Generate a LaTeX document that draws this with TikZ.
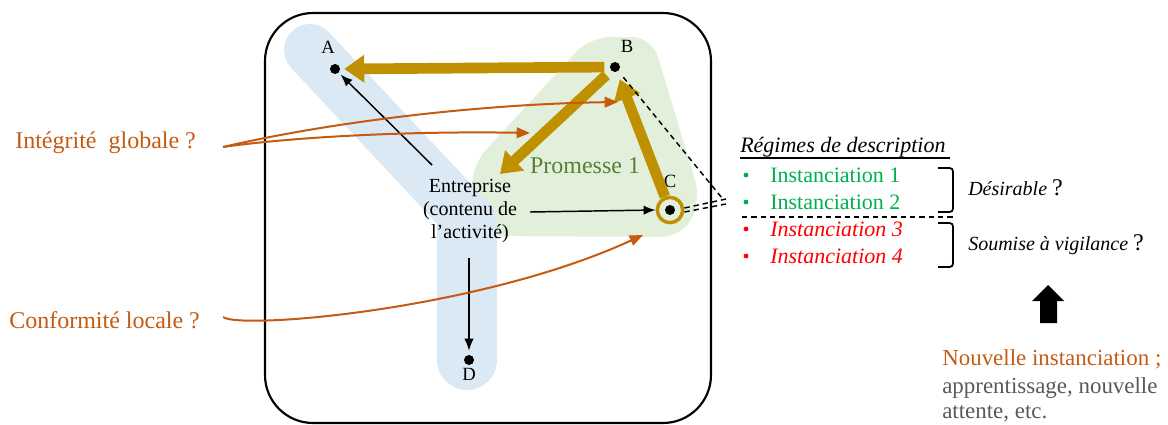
\documentclass[tikz,border=0pt]{standalone}
\usepackage{fontspec}
\setmainfont{Liberation Serif}
\usetikzlibrary{arrows.meta,calc}
\definecolor{orng}{RGB}{197,90,17}
\definecolor{gold}{RGB}{191,144,0}
\definecolor{igreen}{RGB}{0,176,80}
\definecolor{pgreen}{RGB}{84,130,53}
\definecolor{bband}{RGB}{218,233,243}
\definecolor{gband}{RGB}{226,239,218}
\definecolor{greytxt}{RGB}{89,89,89}
\tikzset{
  dot/.style={circle,fill=black,inner sep=0pt,minimum size=7.5pt},
  lbl/.style={font=\fontsize{14}{16}\selectfont,inner sep=0pt},
  goldarrow/.style={draw=gold,line width=8pt,-{Triangle[length=15pt,width=20pt]},gold},
  blackarrow/.style={draw=black,line width=1.1pt,-{Latex[length=9pt,width=7pt]}},
  orarrow/.style={draw=orng,line width=1.5pt,-{Triangle[length=10pt,width=8pt]}},
  dashline/.style={draw=black,line width=1.1pt,dash pattern=on 4pt off 3pt},
  bigtxt/.style={font=\fontsize{18}{21}\selectfont,inner sep=0pt,anchor=west},
  newtxt/.style={font=\fontsize{17.2}{20}\selectfont,inner sep=0pt,anchor=west},
  insttxt/.style={font=\fontsize{16.5}{19}\selectfont,inner sep=0pt,anchor=west},
  bul/.style={circle,inner sep=0pt,minimum size=3.6pt},
}
\begin{document}
\begin{tikzpicture}[x=0.75pt,y=-0.75pt]
\useasboundingbox (0,0) rectangle (1168,425);
% green band
\fill[gband,rounded corners=15pt] (472,236) -- (472,165) -- (590,37) -- (652,37) -- (701,200) -- (682,237) -- cycle;
% blue bands
\draw[bband,line width=39pt,line cap=round] (310,50) -- (455,205);
\draw[bband,line width=45pt,line cap=round] (467,222) -- (467,360);
% outer frame
\draw[line width=1.6pt,rounded corners=36pt] (265,13) rectangle (711,423);
% dots
\node[dot] (A) at (335,69) {};
\node[dot] (B) at (615,67) {};
\node[dot] (C) at (670,210) {};
\node[dot] (D) at (469,360) {};
\node[circle,draw=gold,line width=2.6pt,minimum size=19pt,inner sep=0pt] (Cring) at (670,210) {};
\node[lbl] (lA) at (328,47) {A};
\node[lbl] (lB) at (627,46) {B};
\node[lbl] (lC) at (670,181) {C};
\node[lbl] (lD) at (469,374) {D};
% Entreprise
\node[align=center,font=\fontsize{15}{17.3}\selectfont,inner sep=0pt] (E) at (470,211) {Entreprise\\(contenu de\\l’activité)};
\node[font=\fontsize{18}{21}\selectfont,text=pgreen,inner sep=0pt] (P) at (585,166) {Promesse 1};
% gold arrows
\coordinate (Etip) at (500,174);
\draw[goldarrow,shorten <=4pt,shorten >=3pt] (B) -- (A);
\draw[goldarrow,shorten <=5pt] (B) -- (Etip);
\draw[goldarrow,shorten >=6pt] (Cring) -- (B);
% black arrows
\coordinate (Es1) at (432,165);
\coordinate (Es2) at (530,212);
\coordinate (Es3) at (469,258);
\draw[blackarrow,shorten >=2pt] (Es1) -- (A);
\draw[blackarrow,shorten >=0pt] (Es2) -- (Cring.west);
\draw[blackarrow,shorten >=3pt] (Es3) -- (D);
% dashed lines
\coordinate (J1) at (722,198);
\coordinate (J2) at (726,199);
\coordinate (J3) at (726,204);
\draw[dashline,shorten <=6pt] (B) -- (J1);
\draw[dashline] ($(Cring.east)+(0,-2)$) -- (J2);
\draw[dashline] ($(Cring.east)+(0,2)$) -- (J3);
% left labels
\node[bigtxt,text=orng] (IG) at (15,143) {Intégrité\ \ globale ?};
\node[bigtxt,text=orng] (CL) at (9,320) {Conformité locale ?};
\coordinate (IGs) at (223,147);
\coordinate (CLs) at (223,317);
\coordinate (Bt) at (618,102);
\coordinate (Mt) at (530,133);
\coordinate (Ct) at (643,235);
\draw[orarrow] (IGs) .. controls (330,122) and (480,104) .. (Bt);
\draw[orarrow] (IGs) .. controls (300,136) and (420,131) .. (Mt);
\draw[orarrow] (CLs) .. controls (240,330) and (480,310) .. (Ct);
% right texts
\node[insttxt,font=\fontsize{16.5}{19}\selectfont\itshape] (R) at (740,147) {Régimes de description};
\draw[line width=0.9pt] (740,158) -- (950,158);
\node[bul,fill=igreen] (b1) at (746,175) {};
\node[bul,fill=igreen] (b2) at (746,202) {};
\node[bul,fill=red] (b3) at (746,229) {};
\node[bul,fill=red] (b4) at (746,256) {};
\node[insttxt,text=igreen] (i1) at (770,175) {Instanciation 1};
\node[insttxt,text=igreen] (i2) at (770,202) {Instanciation 2};
\node[insttxt,text=red,font=\fontsize{16.5}{19}\selectfont\itshape] (i3) at (770,229) {Instanciation 3};
\node[insttxt,text=red,font=\fontsize{16.5}{19}\selectfont\itshape] (i4) at (770,256) {Instanciation 4};
\draw[dashline] (742,217) -- (953,217);
\draw[line width=1.3pt,rounded corners=2.5pt] (938,168) -- (953,168) -- (953,212) -- (938,212);
\draw[line width=1.3pt,rounded corners=2.5pt] (938,223) -- (953,223) -- (953,267) -- (938,267);
\node[anchor=west,inner sep=0pt] (Des) at (968,188) {\fontsize{15}{18}\selectfont\itshape Désirable \upshape\fontsize{18}{21}\selectfont ?};
\node[anchor=west,inner sep=0pt] (Sou) at (968,245) {\fontsize{15}{18}\selectfont\itshape Soumise à vigilance \upshape\fontsize{18}{21}\selectfont ?};
% up arrow
\fill[black] (1048,285) -- (1064,301) -- (1057,301) -- (1057,323) -- (1040,323) -- (1040,301) -- (1032,301) -- cycle;
\node[newtxt,text=orng] (N1) at (942,359) {Nouvelle instanciation ;};
\node[newtxt,text=greytxt] (N2) at (942,388) {apprentissage, nouvelle};
\node[newtxt,text=greytxt] (N3) at (942,414) {attente, etc.};
\end{tikzpicture}
\end{document}
